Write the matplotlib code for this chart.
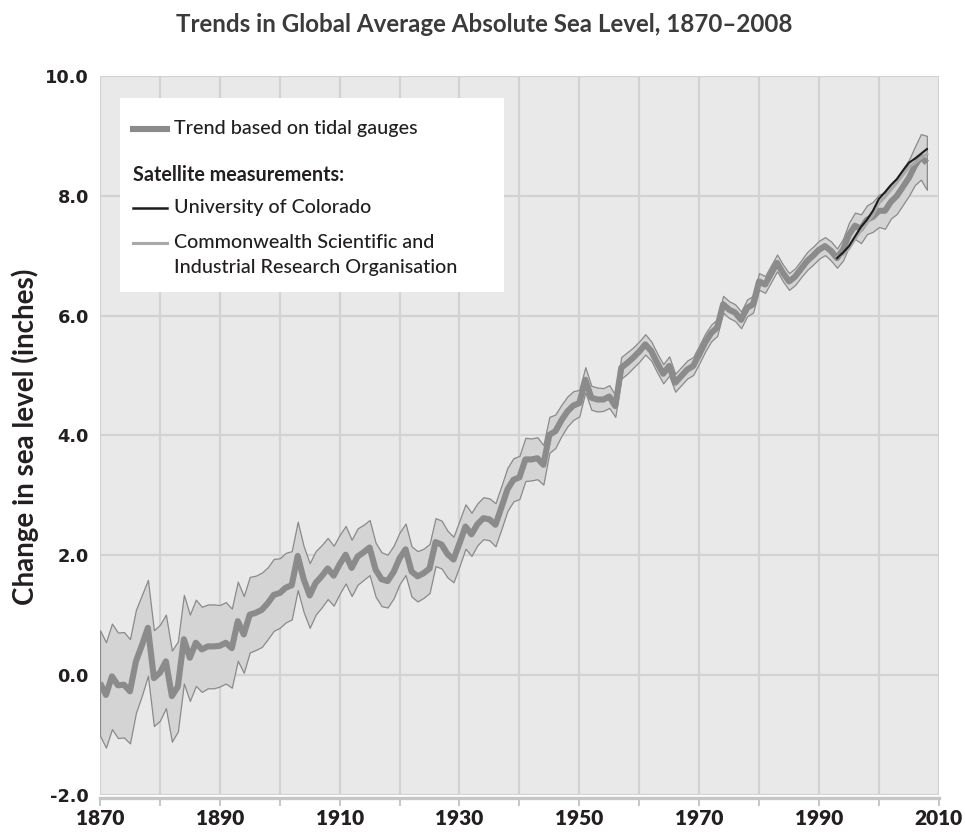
import numpy as np
import matplotlib
matplotlib.use("Agg")
import matplotlib.pyplot as plt
from matplotlib.lines import Line2D
from matplotlib.patches import Rectangle

# Tidal-gauge reconstruction, annual, inches relative to 1870
years = list(range(1870, 2009))
tidal = [
    -0.13, -0.33, -0.02, -0.17, -0.16, -0.27, 0.23, 0.50, 0.79, -0.05,
    0.04, 0.23, -0.35, -0.19, 0.60, 0.29, 0.54, 0.43, 0.48, 0.48,
    0.49, 0.54, 0.45, 0.90, 0.68, 1.01, 1.04, 1.09, 1.20, 1.34,
    1.37, 1.46, 1.50, 1.99, 1.60, 1.33, 1.54, 1.65, 1.78, 1.66,
    1.85, 2.01, 1.79, 1.98, 2.05, 2.13, 1.76, 1.60, 1.57, 1.72,
    1.95, 2.10, 1.73, 1.65, 1.70, 1.78, 2.22, 2.18, 2.02, 1.93,
    2.20, 2.48, 2.35, 2.52, 2.62, 2.60, 2.51, 2.80, 3.10, 3.26,
    3.30, 3.60, 3.60, 3.62, 3.51, 4.01, 4.07, 4.25, 4.40, 4.50,
    4.54, 4.93, 4.63, 4.60, 4.60, 4.65, 4.49, 5.13, 5.21, 5.30,
    5.40, 5.52, 5.41, 5.21, 5.03, 5.16, 4.88, 4.99, 5.10, 5.16,
    5.35, 5.55, 5.71, 5.80, 6.19, 6.10, 6.05, 5.93, 6.13, 6.19,
    6.57, 6.52, 6.70, 6.88, 6.71, 6.57, 6.65, 6.78, 6.91, 7.00,
    7.10, 7.16, 7.08, 6.96, 7.10, 7.35, 7.50, 7.45, 7.60, 7.65,
    7.75, 7.75, 7.90, 8.00, 8.15, 8.30, 8.50, 8.65, 8.55,
]
# Half-width of the uncertainty band around the tidal trend
tidal_err = [
    0.88, 0.88, 0.88, 0.88, 0.88, 0.87, 0.86, 0.84, 0.80, 0.80,
    0.80, 0.78, 0.76, 0.75, 0.74, 0.72, 0.72, 0.71, 0.70, 0.70,
    0.68, 0.68, 0.66, 0.66, 0.64, 0.63, 0.62, 0.62, 0.60, 0.60,
    0.58, 0.58, 0.57, 0.57, 0.55, 0.54, 0.53, 0.52, 0.51, 0.50,
    0.49, 0.48, 0.47, 0.47, 0.46, 0.46, 0.45, 0.45, 0.44, 0.44,
    0.43, 0.43, 0.42, 0.42, 0.41, 0.41, 0.40, 0.40, 0.39, 0.38,
    0.38, 0.37, 0.36, 0.35, 0.35, 0.35, 0.36, 0.36, 0.36, 0.36,
    0.36, 0.36, 0.35, 0.35, 0.33, 0.30, 0.28, 0.26, 0.25, 0.24,
    0.22, 0.21, 0.20, 0.20, 0.19, 0.19, 0.18, 0.18, 0.18, 0.17,
    0.17, 0.17, 0.16, 0.16, 0.16, 0.16, 0.15, 0.15, 0.15, 0.15,
    0.15, 0.15, 0.14, 0.14, 0.14, 0.14, 0.14, 0.14, 0.14, 0.14,
    0.14, 0.14, 0.14, 0.14, 0.14, 0.14, 0.14, 0.14, 0.15, 0.15,
    0.15, 0.15, 0.16, 0.16, 0.18, 0.20, 0.22, 0.24, 0.24, 0.25,
    0.27, 0.30, 0.28, 0.30, 0.30, 0.30, 0.32, 0.38, 0.45,
]

# Satellite altimetry
sat_years = list(range(1993, 2009))
colorado = [6.96, 7.05, 7.16, 7.32, 7.48, 7.60, 7.75, 7.95,
            8.06, 8.18, 8.28, 8.42, 8.55, 8.62, 8.70, 8.78]
csiro_sat = [6.98, 7.02, 7.12, 7.28, 7.42, 7.55, 7.68, 7.88,
             7.98, 8.10, 8.22, 8.35, 8.48, 8.55, 8.63, 8.70]

x_ticks = [1870, 1890, 1910, 1930, 1950, 1970, 1990, 2010]
y_ticks = [-2.0, 0.0, 2.0, 4.0, 6.0, 8.0, 10.0]

TITLE = "Trends in Global Average Absolute Sea Level, 1870\u20132008"
YLABEL = "Change in sea level (inches)"

humanist = ["Lato", "DejaVu Sans"]

fig = plt.figure(figsize=(9.65, 8.32), dpi=100)
ax = fig.add_axes([0.1036, 0.0445, 0.8693, 0.8642])
ax.set_facecolor("#e9e9e9")

yrs = np.array(years, dtype=float)
val = np.array(tidal)
err = np.array(tidal_err)

ax.fill_between(yrs, val - err, val + err, facecolor="#d4d4d4",
                edgecolor="#8a8a8a", linewidth=0.9, zorder=2)
ax.plot(yrs, val, color="#8b8b8b", linewidth=4.4, solid_joinstyle="round",
        solid_capstyle="butt", zorder=3)
ax.plot(sat_years, csiro_sat, color="#a9a9a9", linewidth=2.2, zorder=4)
ax.plot(sat_years, colorado, color="#1c1c1c", linewidth=1.5, zorder=5)

ax.set_xlim(1870, 2010)
ax.set_ylim(-2.0, 10.0)
ax.set_xticks(range(1870, 2011, 10), minor=False)
ax.set_xticklabels([str(y) if y in x_ticks else "" for y in range(1870, 2011, 10)])
ax.set_yticks(y_ticks)
ax.set_yticklabels([f"{v:.1f}" for v in y_ticks])

ax.grid(True, color="#d2d2d2", linewidth=1.6, zorder=1)
ax.set_axisbelow(True)

for side in ("top", "right", "left"):
    ax.spines[side].set_visible(False)
ax.spines["bottom"].set_color("#c6c6c6")
ax.spines["bottom"].set_linewidth(2.4)
ax.spines["bottom"].set_position(("outward", 2))

ax.tick_params(axis="x", direction="out", length=6, width=1.4, color="#c6c6c6",
               pad=2, labelsize=15, labelcolor="#231f20")
ax.tick_params(axis="y", length=0, pad=8, labelsize=12.8, labelcolor="#231f20")
for lab in ax.get_xticklabels():
    lab.set_family(humanist)
    lab.set_fontweight("heavy")
for lab in ax.get_yticklabels():
    lab.set_family(["DejaVu Sans"])
    lab.set_fontweight("bold")

# Key box
ax.add_patch(Rectangle((0.0239, 0.6996), 0.4579, 0.2698, transform=ax.transAxes,
                       facecolor="white", edgecolor="none", zorder=6))
kx0, kx1, tx = 0.0394, 0.0799, 0.0882
ax.add_line(Line2D([kx0, kx1], [0.9263, 0.9263], transform=ax.transAxes,
                   color="#8b8b8b", linewidth=4.4, zorder=7))
ax.add_line(Line2D([kx0, kx1], [0.8164, 0.8164], transform=ax.transAxes,
                   color="#1c1c1c", linewidth=1.8, zorder=7))
ax.add_line(Line2D([kx0, kx1], [0.7677, 0.7677], transform=ax.transAxes,
                   color="#a9a9a9", linewidth=2.2, zorder=7))
key_font = dict(family=humanist, fontsize=14.2, color="#231f20",
                transform=ax.transAxes, va="center", ha="left", zorder=8)
ax.text(tx, 0.9263, "Trend based on tidal gauges", fontweight="medium", **key_font)
ax.text(kx0, 0.8623, "Satellite measurements:", fontweight="bold", **key_font)
ax.text(tx, 0.8164, "University of Colorado", fontweight="medium", **key_font)
ax.text(tx, 0.7677, "Commonwealth Scientific and", fontweight="medium", **key_font)
ax.text(tx, 0.7330, "Industrial Research Organisation", fontweight="medium", **key_font)

fig.text(0.5016, 0.970, TITLE, ha="center", va="center", fontsize=17.4,
         fontweight="bold", family=humanist, color="#3b3b3b")
fig.text(0.026, 0.475, YLABEL, ha="center", va="center", rotation=90,
         fontsize=20, fontweight="bold", family=humanist, color="#231f20")

fig.savefig("out.png", dpi=100, facecolor="white")
